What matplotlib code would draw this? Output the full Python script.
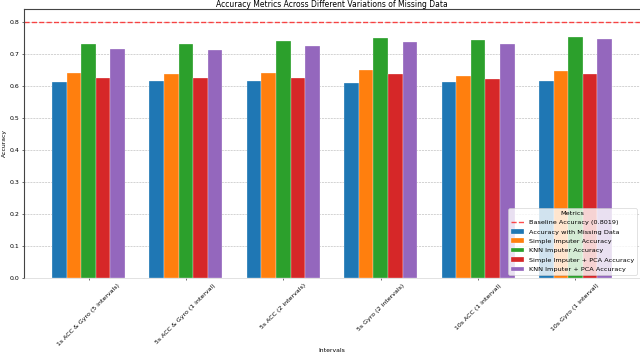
import matplotlib
matplotlib.use("Agg")
import matplotlib.pyplot as plt
import numpy as np

categories = ["1s ACC & Gyro (5 intervals)", "5s ACC & Gyro (1 interval)",
              "5s ACC (2 intervals)", "5s Gyro (2 intervals)",
              "10s ACC (1 interval)", "10s Gyro (1 interval)"]
acc_missing = [0.613, 0.617, 0.617, 0.611, 0.613, 0.617]
simple_imp = [0.642, 0.638, 0.642, 0.650, 0.632, 0.647]
knn_imp = [0.732, 0.732, 0.742, 0.751, 0.745, 0.755]
simple_pca = [0.627, 0.625, 0.627, 0.638, 0.622, 0.638]
knn_pca = [0.717, 0.714, 0.726, 0.737, 0.732, 0.748]
baseline = 0.8019

series = [
    ("Accuracy with Missing Data", acc_missing),
    ("Simple Imputer Accuracy", simple_imp),
    ("KNN Imputer Accuracy", knn_imp),
    ("Simple Imputer + PCA Accuracy", simple_pca),
    ("KNN Imputer + PCA Accuracy", knn_pca),
]

DPI = 50
fig = plt.figure(figsize=(640 / DPI, 358 / DPI), dpi=DPI)
ax = fig.add_axes([0.0375, 0.2235, 0.9625, 0.7515])

x = np.arange(len(categories))
width = 0.15
ax.axhline(baseline, color="red", linestyle="--", linewidth=2, alpha=0.7,
           label=f"Baseline Accuracy ({baseline})")
for i, (name, vals) in enumerate(series):
    ax.bar(x + (i - 2) * width, vals, width, label=name,
           edgecolor="white", linewidth=0.4)

ax.set_title("Accuracy Metrics Across Different Variations of Missing Data",
             fontsize=11, pad=1.5)
ax.set_xlabel("Intervals", fontsize=8.8, labelpad=2)
ax.set_ylabel("Accuracy", fontsize=8.8)
ax.set_xticks(x)
ax.set_xticklabels(categories, rotation=45, ha="center", fontsize=9)
ax.tick_params(axis="y", labelsize=9)
ax.grid(axis="y", linestyle="--", color="gray", alpha=0.6)
ax.set_axisbelow(True)
for side in ("left", "top"):
    ax.spines[side].set_linewidth(1.6)
    ax.spines[side].set_color("#444444")
ax.spines["bottom"].set_color("#cccccc")
ax.legend(title="Metrics", loc="lower right", fontsize=9.3, title_fontsize=9.3,
          labelspacing=0.6)

fig.savefig("out.png", dpi=DPI)
